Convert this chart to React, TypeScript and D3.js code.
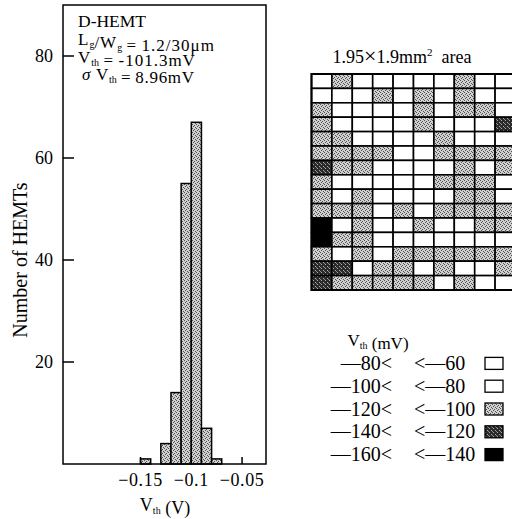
import React from "react";
import * as d3 from "d3";

// histogram of threshold voltage (V), bin width 0.01 V
const binStarts = [-0.15, -0.13, -0.12, -0.11, -0.1, -0.09, -0.08];
const binCounts = [1, 4, 14, 55, 67, 7, 1];
const binWidth = 0.01;
const xTicks = [-0.15, -0.1, -0.05];
const yTicks = [20, 40, 60, 80];

// wafer map: 1 = -80..-60, 2 = -100..-80, 3 = -120..-100, 4 = -140..-120, 5 = -160..-140
const waferMap = [
  [2, 3, 2, 2, 2, 2, 2, 3, 2, 2],
  [2, 2, 2, 3, 2, 3, 2, 3, 2, 2],
  [3, 2, 2, 2, 2, 3, 2, 3, 3, 2],
  [3, 2, 2, 2, 2, 3, 2, 2, 2, 4],
  [3, 3, 2, 2, 2, 2, 3, 2, 2, 2],
  [3, 3, 3, 3, 2, 2, 3, 3, 3, 3],
  [4, 3, 3, 2, 2, 2, 2, 3, 2, 3],
  [3, 2, 2, 2, 2, 2, 3, 3, 3, 2],
  [3, 2, 3, 2, 2, 2, 2, 3, 3, 2],
  [3, 3, 3, 2, 3, 2, 3, 3, 3, 3],
  [5, 2, 3, 2, 2, 3, 2, 2, 3, 3],
  [5, 3, 3, 2, 2, 2, 2, 2, 2, 2],
  [3, 2, 3, 2, 3, 3, 3, 3, 3, 3],
  [4, 4, 2, 3, 3, 2, 3, 2, 2, 3],
  [4, 3, 3, 3, 3, 3, 2, 3, 2, 2],
];
const legendLow = ["—80<", "—100<", "—120<", "—140<", "—160<"];
const legendHigh = ["<—60", "<—80", "<—100", "<—120", "<—140"];
const legendClass = [1, 2, 3, 4, 5];

const font = "'Liberation Serif', 'DejaVu Serif', serif";

const fillFor = (c: number) =>
  c <= 2 ? "#fff" : c === 3 ? "url(#gray)" : c === 4 ? "url(#dark)" : "#000";

const Sub = ({ t }: { t: string }) => (
  <>
    <tspan fontSize={10} dy={3} letterSpacing={0}>{t}</tspan>
    <tspan dy={-3}></tspan>
  </>
);

export default function App() {
  const hist = { left: 63, right: 266, top: 5, bottom: 464 };
  const x = d3.scaleLinear().domain([-0.2264, -0.0264]).range([hist.left, hist.right]);
  const y = d3.scaleLinear().domain([0, 90]).range([hist.bottom, hist.top]);

  const nCols = waferMap[0].length;
  const col = d3.scaleBand<number>().domain(d3.range(nCols)).range([311.5, 311.5 + 20.4 * nCols]);
  const row = d3.scaleBand<number>().domain(d3.range(waferMap.length)).range([74, 290]);

  const legendY = d3.scaleBand<number>().domain(d3.range(legendClass.length)).range([352, 466]);

  const fmt = (d: number) => d3.format(".2~f")(d).replace("-", "−");
  const eq = "\u2009=\u2009";

  return (
    <svg width={512} height={519} style={{ position: "absolute", left: 0, top: 0, background: "#fff" }} fontFamily={font}>
      <defs>
        <pattern id="gray" width={4} height={4} patternUnits="userSpaceOnUse">
          <rect width={4} height={4} fill="#d0d0d0" />
          <rect x={0} y={0} width={1} height={1} fill="#505050" />
          <rect x={2} y={1} width={1} height={1} fill="#505050" />
          <rect x={1} y={2} width={1} height={1} fill="#505050" />
          <rect x={3} y={3} width={1} height={1} fill="#505050" />
        </pattern>
        <pattern id="dark" width={4} height={4} patternUnits="userSpaceOnUse">
          <rect width={4} height={4} fill="#2a2a2a" />
          <rect x={1} y={0} width={1} height={1} fill="#aaa" />
          <rect x={3} y={2} width={1} height={1} fill="#aaa" />
          <rect x={0} y={3} width={1} height={1} fill="#888" />
        </pattern>
      </defs>

      {/* histogram */}
      {binStarts.map((b, i) => (
        <rect
          key={i}
          x={x(b)}
          y={y(binCounts[i])}
          width={x(b + binWidth) - x(b)}
          height={y(0) - y(binCounts[i])}
          fill="url(#gray)"
          stroke="#000"
          strokeWidth={1.5}
        />
      ))}
      <rect x={hist.left} y={hist.top} width={hist.right - hist.left} height={hist.bottom - hist.top} fill="none" stroke="#000" strokeWidth={1.5} />
      {yTicks.map((t) => (
        <g key={t}>
          <line x1={hist.left} x2={hist.left + 11} y1={y(t)} y2={y(t)} stroke="#000" strokeWidth={1.5} />
          <text x={53} y={y(t) + 6} textAnchor="end" fontSize={18}>{t}</text>
        </g>
      ))}
      {xTicks.map((t) => (
        <g key={t}>
          <line x1={x(t)} x2={x(t)} y1={hist.bottom} y2={hist.bottom - 7} stroke="#000" strokeWidth={1.5} />
          <text x={x(t)} y={486} textAnchor="middle" fontSize={18} letterSpacing={0.6}>{fmt(t)}</text>
        </g>
      ))}
      <text x={165} y={511} textAnchor="middle" fontSize={18}>
        V<Sub t="th" /> (V)
      </text>
      <text transform="translate(27,260) rotate(-90)" textAnchor="middle" fontSize={20}>Number of HEMTs</text>

      <g fontSize={17}>
        <text x={78} y={27} fontSize={17.5}>D-HEMT</text>
        <text x={78} y={45} letterSpacing={1}>
          L<Sub t="g" />/W<Sub t="g" />{eq}1.2/30μm
        </text>
        <text x={78} y={62.5} letterSpacing={1}>
          V<Sub t="th" />{eq}-101.3mV
        </text>
        <text x={82} y={80} letterSpacing={0.7}>
          <tspan fontStyle="italic">σ</tspan> V<Sub t="th" />{eq}8.96mV
        </text>
      </g>

      {/* wafer map */}
      <text x={402} y={63} textAnchor="middle" fontSize={18}>
        1.95<tspan fontSize={22}>×</tspan>1.9mm<tspan fontSize={11} dy={-7}>2</tspan><tspan dy={7}>{"\u00a0\u00a0"}area</tspan>
      </text>
      {waferMap.map((r, ri) =>
        r.map((c, ci) => (
          <rect
            key={`${ri}-${ci}`}
            x={col(ci)}
            y={row(ri)}
            width={col.bandwidth()}
            height={row.bandwidth()}
            fill={fillFor(c)}
            stroke="#000"
            strokeWidth={1.6}
          />
        ))
      )}
      <rect x={col(0)} y={row(0)} width={col.bandwidth() * nCols} height={row.bandwidth() * waferMap.length} fill="none" stroke="#000" strokeWidth={2} />

      {/* legend */}
      <text x={378} y={346} textAnchor="middle" fontSize={17}>
        V<Sub t="th" /> (mV)
      </text>
      {legendClass.map((c, i) => {
        const cy = legendY(i)! + legendY.bandwidth() / 2;
        return (
          <g key={c} fontSize={20}>
            <text x={392} y={cy + 6.5} textAnchor="end">{legendLow[i]}</text>
            <text x={414} y={cy + 6.5}>{legendHigh[i]}</text>
            <rect x={485} y={cy - 6} width={18} height={12} fill={fillFor(c)} stroke="#000" strokeWidth={1.3} />
          </g>
        );
      })}
    </svg>
  );
}
